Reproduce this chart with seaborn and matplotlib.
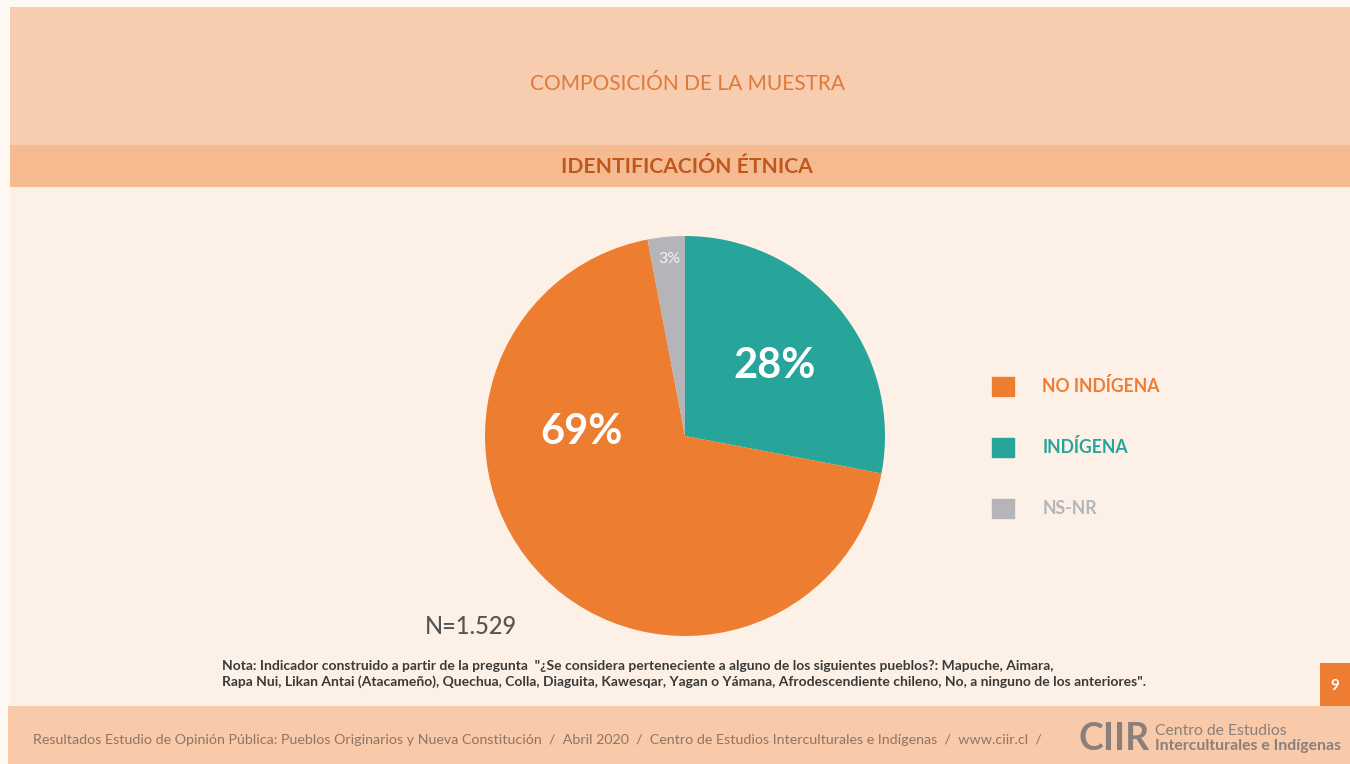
import matplotlib
matplotlib.use("Agg")
import matplotlib.pyplot as plt
import matplotlib.patches as mpatches
import numpy as np
import seaborn as sns

# data
categories = ["INDÍGENA", "NO INDÍGENA", "NS-NR"]
shares = [28, 69, 3]
pct_labels = ["28%", "69%", "3%"]
legend_order = ["NO INDÍGENA", "INDÍGENA", "NS-NR"]
sample_note = "N=1.529"

title = "COMPOSICIÓN DE LA MUESTRA"
subtitle = "IDENTIFICACIÓN ÉTNICA"
note = ("Nota: Indicador construido a partir de la pregunta  \"¿Se considera perteneciente a alguno de los siguientes pueblos?: Mapuche, Aimara,\n"
        "Rapa Nui, Likan Antai (Atacameño), Quechua, Colla, Diaguita, Kawesqar, Yagan o Yámana, Afrodescendiente chileno, No, a ninguno de los anteriores\".")
footer = ("Resultados Estudio de Opinión Pública: Pueblos Originarios y Nueva Constitución  /  Abril 2020  /  "
          "Centro de Estudios Interculturales e Indígenas  /  www.ciir.cl  /")
page = "9"

colors = {"INDÍGENA": "#28a59a", "NO INDÍGENA": "#ed7d31", "NS-NR": "#b4b4b9"}

sns.set_theme(style="white")
plt.rcParams["font.family"] = ["Lato", "DejaVu Sans"]

W, H = 1350, 764
fig = plt.figure(figsize=(13.5, 7.64), dpi=100)
fig.patch.set_facecolor("#fefaf3")

# background bands (pixel coords, y from top)
bg = fig.add_axes([0, 0, 1, 1])
bg.set_xlim(0, W)
bg.set_ylim(H, 0)
bg.axis("off")
bg.add_patch(mpatches.Rectangle((10, 7), W - 10, 138, color="#f8ccae", lw=0))
bg.add_patch(mpatches.Rectangle((10, 145), W - 10, 42, color="#f6ba90", lw=0))
bg.add_patch(mpatches.Rectangle((10, 187), W - 10, 519, color="#fdf1e7", lw=0))
bg.add_patch(mpatches.Rectangle((8, 706), W - 8, 58, color="#f8caa9", lw=0))
bg.add_patch(mpatches.Rectangle((1320, 663), 30, 43, color="#ee7d31", lw=0))

bg.text(687, 84, title, ha="center", va="center", fontsize=15, color="#e07a3c", fontweight="normal")
bg.text(687, 167, subtitle, ha="center", va="center", fontsize=15.2, color="#c0571c", fontweight="bold")
bg.text(222, 674, note, ha="left", va="center", fontsize=10, color="#3a3a3a", fontweight="bold", linespacing=1.3)
bg.text(33, 740, footer, ha="left", va="center", fontsize=10.3, color="#8f7466")
bg.text(1335, 686, page, ha="center", va="center", fontsize=11, color="white", fontweight="bold")
bg.text(1079, 739, "CIIR", ha="left", va="center", fontsize=27, color="#8a7f7b", fontweight="bold")
bg.text(1155, 731, "Centro de Estudios", ha="left", va="center", fontsize=11.3, color="#8a7f7b", fontweight="normal")
bg.text(1155, 746, "Interculturales e Indígenas", ha="left", va="center", fontsize=11.3, color="#8a7f7b", fontweight="bold")
bg.text(425, 627, sample_note, ha="left", va="center", fontsize=17, color="#555555", fontweight="medium")

# pie
cx, cy, r = 685, 436, 200
ax = fig.add_axes([(cx - r) / W, (H - cy - r) / H, 2 * r / W, 2 * r / H])
wedges, _ = ax.pie(shares, colors=[colors[c] for c in categories], startangle=90,
                   counterclock=False, radius=1, wedgeprops=dict(linewidth=0))
ax.set_xlim(-1, 1)
ax.set_ylim(-1, 1)
ax.set_aspect("equal")
ax.axis("off")

# label placement (polar, relative to pie centre)
label_dist = [0.57, 0.52, 0.89]
label_ang = [38, 178, 95]
label_size = [30, 30, 11.5]
label_weight = ["bold", "bold", "normal"]
label_color = ["white", "white", "#f4f4f4"]
for lab, d, a, s, w, c in zip(pct_labels, label_dist, label_ang, label_size, label_weight, label_color):
    t = np.deg2rad(a)
    ax.text(d * np.cos(t), d * np.sin(t), lab, ha="center", va="center",
            fontsize=s, color=c, fontweight=w)

# legend
handles = [mpatches.Patch(color=colors[c]) for c in legend_order]
leg = fig.legend(handles, legend_order, loc="upper left",
                 bbox_to_anchor=(985 / W, 1 - 370 / H), frameon=False,
                 handlelength=1.25, handleheight=1.25,
                 handletextpad=1.6, labelspacing=2.4, borderaxespad=0,
                 labelcolor=[colors[c] for c in legend_order],
                 prop={"weight": "bold", "size": 12.7})

fig.savefig("out.png", dpi=100)
